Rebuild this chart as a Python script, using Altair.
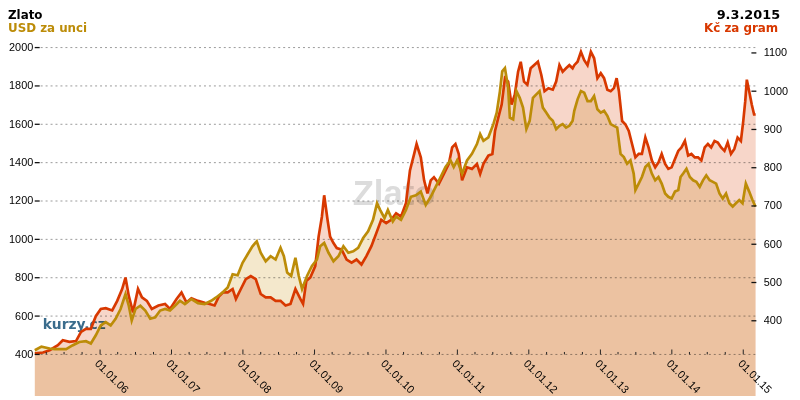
import altair as alt
import pandas as pd

# ---- data ----
gold_year = [2005.086, 2005.179, 2005.294, 2005.363, 2005.432, 2005.525, 2005.612, 2005.709, 2005.802, 2005.871,
             2005.940, 2006.010, 2006.079, 2006.148, 2006.217, 2006.287, 2006.356, 2006.402, 2006.443, 2006.495,
             2006.564, 2006.633, 2006.702, 2006.772, 2006.841, 2006.910, 2006.979, 2007.049, 2007.118, 2007.187,
             2007.279, 2007.371, 2007.464, 2007.556, 2007.625, 2007.718, 2007.787, 2007.856, 2007.926, 2007.995,
             2008.064, 2008.133, 2008.193, 2008.248, 2008.318, 2008.387, 2008.456, 2008.525, 2008.572, 2008.618,
             2008.674, 2008.733, 2008.780, 2008.826, 2008.895, 2008.964, 2009.034, 2009.079, 2009.135, 2009.196,
             2009.265, 2009.334, 2009.404, 2009.473, 2009.542, 2009.611, 2009.681, 2009.750, 2009.819, 2009.875,
             2009.920, 2009.980, 2010.027, 2010.096, 2010.142, 2010.211, 2010.280, 2010.350, 2010.419, 2010.488,
             2010.557, 2010.627, 2010.696, 2010.765, 2010.834, 2010.904, 2010.949, 2010.997, 2011.066, 2011.135,
             2011.204, 2011.274, 2011.319, 2011.365, 2011.434, 2011.504, 2011.551, 2011.596, 2011.628, 2011.666,
             2011.711, 2011.735, 2011.781, 2011.828, 2011.873, 2011.919, 2011.966, 2012.012, 2012.058, 2012.105,
             2012.150, 2012.196, 2012.243, 2012.289, 2012.335, 2012.382, 2012.428, 2012.473, 2012.520, 2012.566,
             2012.612, 2012.635, 2012.681, 2012.728, 2012.774, 2012.820, 2012.867, 2012.912, 2012.958, 2013.005,
             2013.051, 2013.097, 2013.144, 2013.189, 2013.235, 2013.282, 2013.328, 2013.374, 2013.421, 2013.466,
             2013.490, 2013.536, 2013.581, 2013.629, 2013.674, 2013.720, 2013.767, 2013.813, 2013.858, 2013.906,
             2013.951, 2013.997, 2014.044, 2014.090, 2014.122, 2014.159, 2014.205, 2014.252, 2014.298, 2014.343,
             2014.390, 2014.436, 2014.482, 2014.529, 2014.575, 2014.620, 2014.667, 2014.713, 2014.759, 2014.806,
             2014.852, 2014.897, 2014.944, 2014.990, 2015.036, 2015.083, 2015.129, 2015.170]
gold_usd = [422, 441, 431, 428, 428, 428, 447, 465, 469, 457,
            500, 551, 568, 551, 586, 637, 715, 654, 577, 637,
            654, 629, 586, 594, 629, 637, 629, 654, 680, 663,
            689, 667, 663, 680, 697, 724, 749, 818, 813, 878,
            921, 964, 990, 930, 886, 912, 895, 956, 912, 827,
            809, 904, 809, 741, 809, 861, 895, 964, 981, 930,
            886, 912, 964, 930, 938, 956, 1007, 1042, 1102, 1188,
            1153, 1111, 1153, 1093, 1119, 1102, 1153, 1222, 1230, 1249,
            1179, 1222, 1274, 1325, 1377, 1412, 1377, 1412, 1343, 1412,
            1446, 1497, 1549, 1514, 1532, 1601, 1661, 1773, 1876, 1893,
            1790, 1635, 1626, 1773, 1738, 1687, 1575, 1618, 1738, 1756,
            1773, 1687, 1661, 1635, 1618, 1575, 1592, 1601, 1583, 1592,
            1618, 1670, 1730, 1773, 1765, 1721, 1721, 1747, 1678, 1661,
            1670, 1644, 1601, 1592, 1583, 1446, 1429, 1394, 1412, 1343,
            1257, 1291, 1325, 1377, 1394, 1343, 1308, 1325, 1291, 1239,
            1222, 1213, 1249, 1257, 1325, 1343, 1368, 1325, 1308, 1300,
            1274, 1308, 1334, 1308, 1300, 1291, 1239, 1213, 1239, 1188,
            1171, 1188, 1205, 1188, 1291, 1249, 1205, 1171]

czk_year = [2005.086, 2005.201, 2005.294, 2005.409, 2005.478, 2005.571, 2005.663, 2005.733, 2005.802, 2005.871,
            2005.940, 2006.010, 2006.079, 2006.170, 2006.240, 2006.309, 2006.356, 2006.402, 2006.461, 2006.531,
            2006.586, 2006.655, 2006.724, 2006.817, 2006.910, 2006.979, 2007.071, 2007.140, 2007.209, 2007.279,
            2007.371, 2007.464, 2007.533, 2007.603, 2007.662, 2007.718, 2007.787, 2007.856, 2007.902, 2007.971,
            2008.040, 2008.110, 2008.179, 2008.248, 2008.318, 2008.387, 2008.456, 2008.525, 2008.595, 2008.664,
            2008.733, 2008.802, 2008.840, 2008.885, 2008.941, 2009.010, 2009.057, 2009.103, 2009.135, 2009.182,
            2009.218, 2009.265, 2009.311, 2009.380, 2009.449, 2009.519, 2009.588, 2009.657, 2009.726, 2009.796,
            2009.865, 2009.934, 2010.003, 2010.073, 2010.142, 2010.211, 2010.280, 2010.336, 2010.395, 2010.429,
            2010.488, 2010.534, 2010.581, 2010.627, 2010.672, 2010.742, 2010.811, 2010.880, 2010.927, 2010.973,
            2011.019, 2011.066, 2011.135, 2011.204, 2011.274, 2011.319, 2011.365, 2011.434, 2011.490, 2011.527,
            2011.573, 2011.620, 2011.666, 2011.711, 2011.758, 2011.804, 2011.850, 2011.887, 2011.933, 2011.980,
            2012.026, 2012.072, 2012.127, 2012.174, 2012.220, 2012.275, 2012.335, 2012.382, 2012.428, 2012.473,
            2012.520, 2012.566, 2012.612, 2012.635, 2012.681, 2012.728, 2012.774, 2012.820, 2012.867, 2012.912,
            2012.958, 2013.005, 2013.051, 2013.097, 2013.144, 2013.189, 2013.227, 2013.259, 2013.304, 2013.351,
            2013.397, 2013.443, 2013.490, 2013.536, 2013.581, 2013.629, 2013.674, 2013.720, 2013.767, 2013.813,
            2013.858, 2013.906, 2013.951, 2013.997, 2014.044, 2014.090, 2014.135, 2014.183, 2014.228, 2014.274,
            2014.321, 2014.367, 2014.413, 2014.460, 2014.505, 2014.551, 2014.598, 2014.644, 2014.690, 2014.737,
            2014.782, 2014.828, 2014.875, 2014.921, 2014.967, 2015.000, 2015.028, 2015.050, 2015.083, 2015.119,
            2015.152, 2015.174]
czk_gram = [315, 317, 323, 336, 349, 345, 347, 371, 379, 379,
            412, 431, 433, 427, 452, 483, 513, 465, 422, 483,
            461, 452, 431, 440, 444, 431, 457, 474, 448, 459,
            452, 447, 444, 440, 463, 474, 474, 483, 457, 483,
            509, 517, 509, 470, 461, 461, 452, 452, 440, 444,
            483, 457, 444, 504, 513, 543, 620, 672, 728, 664,
            620, 603, 590, 586, 560, 552, 560, 547, 569, 595,
            629, 664, 655, 664, 681, 672, 707, 793, 836, 862,
            827, 767, 733, 767, 775, 758, 784, 810, 853, 862,
            836, 767, 801, 797, 810, 784, 810, 832, 836, 896,
            931, 965, 1034, 1025, 965, 991, 1051, 1077, 1025, 1017,
            1060, 1068, 1077, 1043, 1000, 1008, 1004, 1025, 1068, 1051,
            1060, 1068, 1060, 1068, 1077, 1103, 1081, 1068, 1103, 1086,
            1034, 1047, 1034, 1004, 1000, 1008, 1034, 1000, 922, 913,
            896, 862, 827, 836, 836, 879, 853, 819, 801, 814,
            836, 810, 797, 801, 823, 844, 853, 870, 832, 836,
            827, 827, 819, 853, 862, 853, 870, 866, 853, 844,
            866, 836, 849, 879, 870, 922, 974, 1030, 1000, 965,
            939, 939]

usd_ticks = [400, 600, 800, 1000, 1200, 1400, 1600, 1800, 2000]
czk_ticks = [400, 500, 600, 700, 800, 900, 1000, 1100]
label_years = list(range(2006, 2016))

title_left = "Zlato"
subtitle_left = "USD za unci"
title_right = "9.3.2015"
subtitle_right = "Kč za gram"

GOLD = "#BC8C08"
RED = "#D83800"
CREAM = "#F4E8CC"
PINK = "#F7D6C9"

W, H = 729, 310


def to_date(years):
    s = pd.Series(years, dtype=float)
    whole = s.astype(int)
    start = pd.to_datetime(whole.astype(str) + "-01-01")
    end = pd.to_datetime((whole + 1).astype(str) + "-01-01")
    return start + (end - start) * (s - whole)


gold_df = pd.DataFrame({"date": to_date(gold_year), "usd": gold_usd})
czk_df = pd.DataFrame({"date": to_date(czk_year), "czk": czk_gram})
qdates = pd.date_range("2005-04-01", "2015-01-01", freq="QS")
qt_df = pd.DataFrame({"date": qdates, "major": [d.month == 1 for d in qdates]})
usd_tick_df = pd.DataFrame({"usd": usd_ticks})
czk_tick_df = pd.DataFrame({"czk": czk_ticks})

x_scale = alt.Scale(domain=[alt.DateTime(year=2005, month=2, date=1),
                            alt.DateTime(year=2015, month=3, date=9)], nice=False)
x_axis = alt.Axis(values=[alt.DateTime(year=y, month=1, date=1) for y in label_years],
                  format="%d.%m.%y", labelAngle=45, labelAlign="left", labelBaseline="top",
                  labelPadding=3, ticks=False, tickSize=0, domain=False, grid=False, title="")
X = alt.X("date:T", scale=x_scale, axis=x_axis)

usd_scale = alt.Scale(domain=[400, 2000], nice=False, zero=False)
czk_scale = alt.Scale(domain=[312, 1114], nice=False, zero=False)

usd_axis = alt.Axis(orient="left", values=usd_ticks, format="d", grid=False, ticks=False, tickSize=0,
                    domain=False, labelPadding=2, title="")
czk_axis = alt.Axis(orient="right", values=czk_ticks, format="d", grid=False, ticks=False, tickSize=0,
                    domain=False, labelPadding=7, title="")


def text_layer(txt, x, y, color, size, font, align, weight="bold"):
    return alt.Chart(pd.DataFrame({"t": [txt]})).mark_text(
        font=font, fontSize=size, fontWeight=weight, align=align, baseline="alphabetic", color=color
    ).encode(text="t:N", x=alt.value(x), y=alt.value(y))


wm_zlato = text_layer("Zlato", 363, 159, "#DCDCDC", 35, "Liberation Sans", "center")
wm_kurzy = text_layer("kurzy.cz", 8, 284, "#3A6C8C", 14, "DejaVu Sans", "left")

gold_area = alt.Chart(gold_df).mark_area(color=CREAM, blend="multiply").encode(
    x=X, y=alt.Y("usd:Q", scale=usd_scale, axis=usd_axis), y2=alt.value(H))
czk_area = alt.Chart(czk_df).mark_area(color=PINK, blend="multiply").encode(
    x=X, y=alt.Y("czk:Q", scale=czk_scale, axis=czk_axis), y2=alt.value(H))

# dashed horizontal grid (at the USD ticks), multiplied over the fills
grid = alt.Chart(usd_tick_df).mark_rule(color="#9a9a9a", strokeDash=[2, 3], strokeWidth=1,
                                         blend="multiply").encode(
    y=alt.Y("usd:Q", scale=usd_scale, axis=None), x=alt.value(6), x2=alt.value(W))

czk_line = alt.Chart(czk_df).mark_line(color=RED, strokeWidth=2.7).encode(
    x=X, y=alt.Y("czk:Q", scale=czk_scale, axis=None))
gold_line = alt.Chart(gold_df).mark_line(color=GOLD, strokeWidth=2.7).encode(
    x=X, y=alt.Y("usd:Q", scale=usd_scale, axis=None))

left_ticks = alt.Chart(usd_tick_df).mark_rule(color="#111", strokeWidth=1.3).encode(
    y=alt.Y("usd:Q", scale=usd_scale, axis=None), x=alt.value(0), x2=alt.value(5))
right_ticks = alt.Chart(czk_tick_df).mark_rule(color="#111", strokeWidth=1.3).encode(
    y=alt.Y("czk:Q", scale=czk_scale, axis=None), x=alt.value(W - 5), x2=alt.value(W))
major_ticks = alt.Chart(qt_df).transform_filter("datum.major").mark_rule(color="#222").encode(
    x=X, y=alt.value(H), y2=alt.value(H - 5))
minor_ticks = alt.Chart(qt_df).transform_filter("!datum.major").mark_rule(color="#222").encode(
    x=X, y=alt.value(H), y2=alt.value(H - 2.5))

t1 = text_layer(title_left, -27, -29, "#000000", 12, "DejaVu Sans", "left")
t2 = text_layer(subtitle_left, -27, -16, GOLD, 12, "DejaVu Sans", "left")
t3 = text_layer(title_right, 753, -29, "#000000", 13, "DejaVu Sans", "right")
t4 = text_layer(subtitle_right, 751, -16, RED, 12, "DejaVu Sans", "right")

chart = alt.layer(
    wm_zlato, wm_kurzy, gold_area, czk_area, grid, czk_line, gold_line,
    left_ticks, right_ticks, major_ticks, minor_ticks, t1, t2, t3, t4
).resolve_scale(y="independent").properties(
    width=W, height=H,
    autosize=alt.AutoSizeParams(type="none"),
    padding={"left": 27, "top": 38, "right": 36, "bottom": 40},
    background="white",
).configure_view(strokeWidth=0).configure_axis(
    labelFont="Liberation Sans", labelFontSize=11, labelColor="#000000"
)

chart.save("out.html", embed_options={"renderer": "svg", "actions": False})
